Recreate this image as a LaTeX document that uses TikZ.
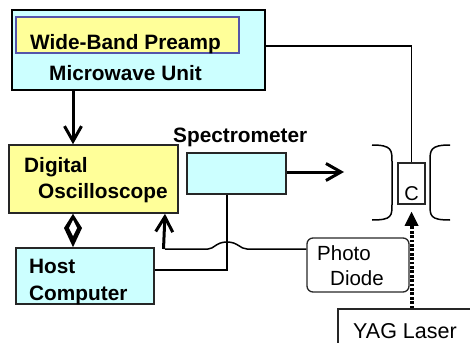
\documentclass[tikz,border=0pt]{standalone}
\usepackage{fontspec}
\setmainfont{Liberation Sans}
\usetikzlibrary{arrows.meta,calc}
\definecolor{cy}{RGB}{204,255,255}
\definecolor{yl}{RGB}{255,255,153}
\definecolor{pb}{RGB}{85,85,170}
\begin{document}
\begin{tikzpicture}[x=1pt,y=-1pt,
  blk/.style={draw=black!85, line width=1.6pt, inner sep=0pt},
  lbl/.style={anchor=base west, inner sep=0pt, font=\fontsize{20.8}{24}\selectfont\bfseries},
  lblr/.style={anchor=base west, inner sep=0pt, font=\fontsize{20.5}{24}\selectfont},
  wire/.style={line width=1.3pt},
  barb/.style={-{Straight Barb[length=15pt,width=17pt]}, line width=3pt},
  brk/.style={line width=1.5pt}]
\useasboundingbox (0,0) rectangle (470,342);
\clip (0,0) rectangle (470,342);
% boxes
\node[blk, fill=cy, draw=black, line width=2pt, minimum width=253pt, minimum height=80pt] (mw) at (138.5,50) {};
\node[blk, fill=yl, draw=pb, line width=1.4pt, minimum width=223pt, minimum height=36pt] (pre) at (127.5,35) {};
\node[blk, fill=yl, minimum width=169pt, minimum height=68pt] (osc) at (93.5,179) {};
\node[blk, fill=cy, minimum width=99pt, minimum height=41pt] (spec) at (236.5,173.5) {};
\node[blk, fill=cy, minimum width=138pt, minimum height=56pt] (host) at (85,276) {};
\node[blk, line width=1.5pt, minimum width=27pt, minimum height=41pt] (cbox) at (411.5,183.5) {};
\node[blk, line width=1.3pt, rounded corners=6pt, minimum width=102pt, minimum height=54pt] (pd) at (358,265) {};
\node[blk, line width=1.3pt, minimum width=142pt, minimum height=51pt] (yag) at (409,334.5) {};
% labels
\node[lbl] (t1) at (30,50) {Wide-Band Preamp};
\node[lbl] (t2) at (49,81) {Microwave Unit};
\node[lbl] (t3) at (24,172) {Digital};
\node[lbl] (t4) at (38,198) {Oscilloscope};
\node[lbl] (t5) at (173,142) {Spectrometer};
\node[lbl] (t6) at (29,273) {Host};
\node[lbl] (t7) at (29,300) {Computer};
\node[lblr] (t8) at (317,260) {Photo};
\node[lblr] (t9) at (330,285) {Diode};
\node[lblr, font=\fontsize{21.5}{24}\selectfont] (t10) at (353,338) {YAG Laser};
\node[anchor=base, inner sep=0pt, font=\fontsize{20}{22}\selectfont] (t11) at (411.5,200) {C};
% brackets
\draw[brk] (372,145) .. controls (392,145) and (392,150) .. (392,162) -- (392,204) .. controls (392,216) and (392,220) .. (372,220);
\draw[brk] (450,145) .. controls (430,145) and (430,150) .. (430,162) -- (430,204) .. controls (430,216) and (430,220) .. (450,220);
% coordinates
\coordinate (ax) at (73,0);
\coordinate (ux) at (165,0);
\coordinate (sx) at (227,0);
\coordinate (sarr) at (344,172);
\coordinate (h1) at (247,249);
\coordinate (h2) at (208,249);
\coordinate (cr) at (165,249);
% connectors
\draw[wire] ([yshift=4pt]mw.east) -| (cbox.north);
\draw[barb] (mw.south -| ax) -- (osc.north -| ax);
\draw[wire, line width=1.5pt] ([yshift=6pt]host.east) -| (spec.south -| sx);
\draw[barb] ([yshift=1.5pt]spec.east) -- ([yshift=1.5pt]spec.east -| sarr);
\draw[wire, line width=1.5pt] ([yshift=16pt]pd.west) -- (h1) .. controls (240,249) and (238,242) .. (227,242) .. controls (216,242) and (214,249) .. (h2) -- (cr);
\draw[barb] ([xshift=-1.5pt]cr) -- (osc.south -| ux);
% double arrow
\fill (osc.south -| ax) -- (82,228) -- (host.north -| ax) -- (64,228) -- cycle;
\fill[white] (73,220) -- (77,228) -- (73,236) -- (69,228) -- cycle;
% laser beam
\draw[line width=4pt, dash pattern=on 2.8pt off 1.6pt] (cbox.south |- yag.north) -- ([yshift=-19pt]cbox.south);
\fill ([yshift=-7pt]cbox.south) -- ++(-7,14) -- ++(14,0) -- cycle;
\end{tikzpicture}
\end{document}
